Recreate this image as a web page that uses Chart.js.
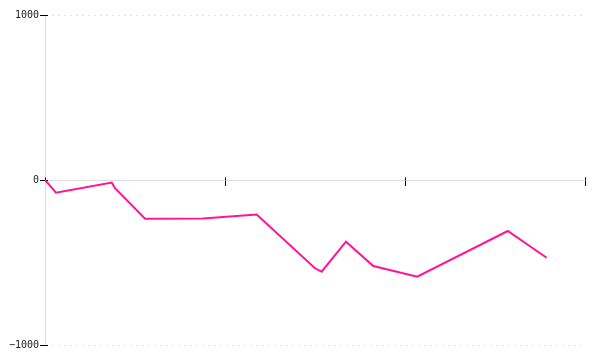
<!DOCTYPE html>
<html>
<head>
<meta charset="utf-8">
<script src="https://cdn.jsdelivr.net/npm/chart.js@4/dist/chart.umd.min.js"></script>
<style>
  html, body { margin: 0; padding: 0; background: #fff; }
  #wrap { width: 600px; height: 360px; }
</style>
</head>
<body>
<div id="wrap"><canvas id="chart" width="600" height="360"></canvas></div>
<script>
// values
const xValues = [0, 0.061, 0.371, 0.389, 0.556, 0.878, 1.176, 1.5, 1.537, 1.672, 1.824, 2.068, 2.571, 2.787];
const yValues = [0, -77, -16, -50, -235, -233, -209, -535, -556, -374, -521, -586, -309, -471];
const yTicks = [-1000, 0, 1000];
const xTicks = [0, 1, 2, 3];

const points = xValues.map((x, i) => ({ x: x, y: yValues[i] }));

// short tick stubs that cross into the plot, like the original
const innerTicks = {
  id: 'innerTicks',
  beforeDatasetsDraw(chart) {
    const ctx = chart.ctx;
    const xs = chart.scales.x, ys = chart.scales.y;
    const left = chart.chartArea.left;
    const y0 = Math.round(ys.getPixelForValue(0)) + 0.5;
    ctx.save();
    ctx.strokeStyle = '#000';
    ctx.lineWidth = 1;
    ctx.beginPath();
    ys.ticks.forEach(t => {
      const py = Math.round(ys.getPixelForValue(t.value)) + 0.5;
      ctx.moveTo(left, py);
      ctx.lineTo(left + 3, py);
    });
    xs.ticks.forEach(t => {
      const px = Math.round(xs.getPixelForValue(t.value)) + 0.5;
      ctx.moveTo(px, y0);
      ctx.lineTo(px, y0 - 3);
    });
    ctx.stroke();
    ctx.restore();
  }
};

new Chart(document.getElementById('chart'), {
  type: 'line',
  data: {
    datasets: [{
      data: points,
      borderColor: '#ff1493',
      borderWidth: 2,
      pointRadius: 0,
      tension: 0,
      fill: false
    }]
  },
  options: {
    responsive: false,
    animation: false,
    layout: { padding: { top: 15, bottom: 15, right: 15, left: 0 } },
    plugins: { legend: { display: false }, tooltip: { enabled: false } },
    scales: {
      x: {
        type: 'linear',
        position: { y: 0 },
        min: 0,
        max: 3,
        afterBuildTicks: (scale) => { scale.ticks = xTicks.map(v => ({ value: v })); },
        ticks: { callback: () => '', padding: 0 },
        grid: { drawOnChartArea: false, tickLength: 5, tickColor: '#000', tickBorderDash: [] },
        border: { color: '#dddddd' }
      },
      y: {
        type: 'linear',
        min: -1000,
        max: 1000,
        afterBuildTicks: (scale) => { scale.ticks = yTicks.map(v => ({ value: v })); },
        afterFit: (scale) => { scale.width = 45; },
        ticks: {
          padding: 1,
          color: '#222',
          font: { family: 'DejaVu Sans Mono', size: 10 },
          callback: (v) => (v < 0 ? '\u2212' + Math.abs(v) : String(v))
        },
        grid: {
          color: '#e3e3e3',
          tickLength: 5,
          tickColor: '#000',
          tickBorderDash: []
        },
        border: { color: '#dddddd', dash: [2, 4] }
      }
    }
  },
  plugins: [innerTicks]
});
</script>
</body>
</html>
